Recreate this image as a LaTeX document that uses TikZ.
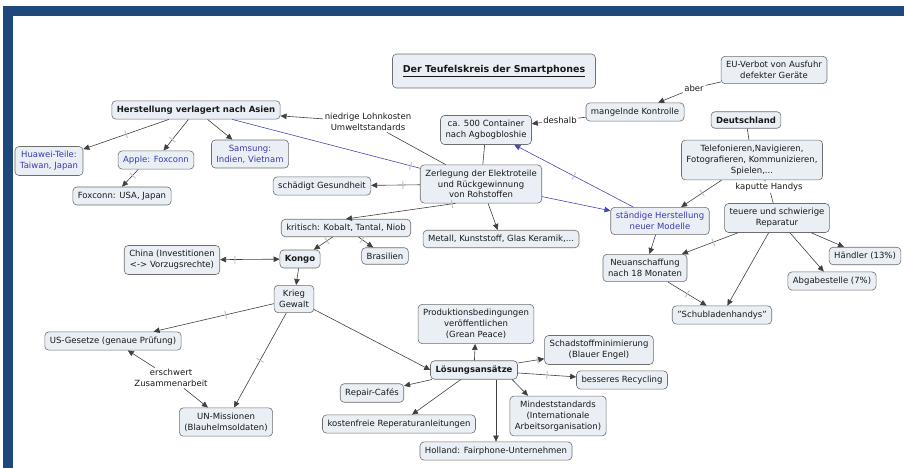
\documentclass[tikz,border=0pt]{standalone}
\usepackage{fontspec}
\setmainfont{DejaVu Sans}
\usetikzlibrary{arrows.meta,positioning,calc}
\definecolor{framecol}{HTML}{1F497D}
\definecolor{boxfill}{HTML}{E9EFF4}
\definecolor{boxline}{HTML}{6E6E6E}
\definecolor{linkcol}{HTML}{404040}
\definecolor{bluelink}{HTML}{4646B4}
\definecolor{bluetext}{HTML}{3A3AAE}
\definecolor{tickcol}{HTML}{C4C4C4}

\begin{document}
\begin{tikzpicture}[x=1pt,y=-1pt,
  font=\fontsize{8.5}{10.8}\selectfont,
  concept/.style={draw=boxline, line width=0.6pt, fill=boxfill, rounded corners=4pt, align=center,
    inner xsep=5pt, inner ysep=5pt, text=black!90},
  boldbox/.style={concept, font=\fontsize{8.5}{10.8}\selectfont\bfseries},
  bluebox/.style={concept, text=bluetext},
  phrase/.style={align=center, inner sep=1.5pt, text=black!90},
  link/.style={draw=linkcol, line width=0.6pt, -{Triangle[length=6pt,width=5.5pt]}},
  plain/.style={draw=linkcol, line width=0.6pt},
  bluelinked/.style={draw=bluelink, line width=0.6pt, -{Triangle[length=6pt,width=5.5pt]}},
  tickmark/.style={pos=0.5, sloped, draw=tickcol, line width=1pt, inner sep=0pt,
    minimum width=0pt, minimum height=8pt}]
\useasboundingbox (0,0) rectangle (904,468);
\fill[framecol] (3,6) rectangle (904,16);
\fill[framecol] (3,6) rectangle (13,468);

\node[boldbox, font=\fontsize{9.5}{11}\selectfont\bfseries, minimum width=203pt, minimum height=34pt] (title) at (494,71) {\underline{Der Teufelskreis der Smartphones}};
\node[concept] (euverbot) at (774,70) {EU-Verbot von Ausfuhr\\defekter Geräte};
\node[phrase] (aber) at (694,88) {aber};
\node[concept] (kontrolle) at (635,112) {mangelnde Kontrolle};
\node[phrase] (deshalb) at (560,120) {deshalb};
\node[concept] (container) at (486,130) {ca. 500 Container\\nach Agbogbloshie};
\node[boldbox] (deutschland) at (746,120) {Deutschland};
\node[boldbox] (herst) at (196,110) {Herstellung verlagert nach Asien};
\node[phrase] (lohn) at (368,122) {niedrige Lohnkosten\\Umweltstandards};
\node[bluebox] (huawei) at (49,161) {Huawei-Teile:\\Taiwan, Japan};
\node[bluebox] (apple) at (156,160) {Apple: Foxconn};
\node[bluebox] (samsung) at (250,154) {Samsung:\\Indien, Vietnam};
\node[concept] (foxconn) at (122,196) {Foxconn: USA, Japan};
\node[concept] (zerl) at (481,184) {Zerlegung der Elektroteile\\und Rückgewinnung\\von Rohstoffen};
\node[concept] (gesund) at (322,186) {schädigt Gesundheit};
\node[concept] (kritisch) at (346,228) {kritisch: Kobalt, Tantal, Niob};
\node[concept] (metall) at (501,239) {Metall, Kunststoff, Glas Keramik,...};
\node[concept] (brasilien) at (385,256) {Brasilien};
\node[boldbox] (kongo) at (300,259) {Kongo};
\node[concept] (china) at (172,260) {China (Investitionen\\<-> Vorzugsrechte)};
\node[concept] (krieg) at (294,299) {Krieg\\Gewalt};
\node[concept] (usg) at (113,341) {US-Gesetze (genaue Prüfung)};
\node[phrase] (erschw) at (171,378) {erschwert\\Zusammenarbeit};
\node[concept] (un) at (226,422) {UN-Missionen\\(Blauhelmsoldaten)};
\node[boldbox] (loesung) at (474,370) {Lösungsansätze};
\node[concept] (produktion) at (476,324) {Produktionsbedingungen\\veröffentlichen\\(Grean Peace)};
\node[concept] (schadstoff) at (599,350) {Schadstoffminimierung\\(Blauer Engel)};
\node[concept] (recycling) at (622,380) {besseres Recycling};
\node[concept] (mindest) at (558,416) {Mindeststandards\\(Internationale\\Arbeitsorganisation)};
\node[concept] (holland) at (496,451) {Holland: Fairphone-Unternehmen};
\node[concept] (kostenfrei) at (399,424) {kostenfreie Reperaturanleitungen};
\node[concept] (repair) at (372,393) {Repair-Cafés};
\node[concept] (tele) at (752,160) {Telefonieren,Navigieren,\\Fotografieren, Kommunizieren,\\Spielen,...};
\node[phrase] (kaputt) at (769,187) {kaputte Handys};
\node[bluebox] (modelle) at (660,221) {ständige Herstellung\\neuer Modelle};
\node[concept] (teuer) at (777,218) {teuere und schwierige\\Reparatur};
\node[concept] (haendler) at (865,256) {Händler (13\%)};
\node[concept] (abgabe) at (832,281) {Abgabestelle (7\%)};
\node[concept] (neu) at (645,268) {Neuanschaffung\\nach 18 Monaten};
\node[concept] (schublade) at (722,315) {"Schubladenhandys"};

\draw[plain] (euverbot) -- (aber);
\draw[link] (aber) -- (kontrolle);
\draw[plain] (kontrolle) -- (deshalb);
\draw[link] (deshalb) -- (container);
\draw[plain] (container) -- (zerl);
\draw[plain] (zerl) -- (lohn);
\draw[link] (lohn) -- (herst);
\draw[link] (herst) -- node[tickmark]{} (huawei);
\draw[link] (herst) -- node[tickmark, pos=0.65]{} (apple);
\draw[link] (herst) -- (samsung);
\draw[link] (apple.208) -- node[tickmark, pos=0.35]{} (foxconn.north);
\draw[bluelinked, -] (herst) -- node[tickmark, pos=0.95]{} (zerl);
\draw[link] (zerl) -- node[tickmark, pos=0.35]{} (gesund);
\draw[link] (zerl.217) -- node[tickmark, pos=0.03]{} (kritisch.north);
\draw[link] (zerl) -- (metall);
\draw[link] (kritisch) -- node[tickmark, pos=0.3]{} (kongo);
\draw[link] (kritisch) -- node[tickmark, pos=0.25]{} (brasilien);
\draw[link, {Triangle[length=6pt,width=5.5pt]}-{Triangle[length=6pt,width=5.5pt]}] (kongo) -- node[tickmark, pos=0.75]{} (china);
\draw[link] (kongo) -- (krieg);
\draw[link] (krieg) -- node[tickmark, pos=0.4]{} (usg);
\draw[link] (krieg) -- node[tickmark]{} (un);
\draw[link] (krieg) -- (loesung.west);
\draw[link] (erschw) -- (usg);
\draw[link] (erschw) -- (un);
\draw[link] (loesung) -- (produktion);
\draw[link] (loesung) -- node[tickmark, pos=0.75]{} (schadstoff);
\draw[link] (loesung) -- node[tickmark]{} (recycling);
\draw[link] (loesung.-14) -- (mindest.146);
\draw[link] (loesung.south -| holland.north) -- (holland.north);
\draw[link] (loesung) -- (kostenfrei);
\draw[link] (loesung) -- (repair);
\draw[bluelinked] (zerl) -- (modelle);
\draw[bluelinked] (modelle) -- node[tickmark]{} (container);
\draw[plain] (deutschland) -- (tele);
\draw[link] (tele) -- node[tickmark, pos=0.48]{} (modelle);
\draw[plain] (tele) -- (kaputt);
\draw[plain] (kaputt) -- (teuer);
\draw[link] (teuer) -- (haendler);
\draw[link] (teuer) -- (abgabe);
\draw[link] (teuer) -- node[tickmark, pos=0.44]{} (neu);
\draw[link] (teuer) -- (schublade);
\draw[link] (modelle) -- (neu);
\draw[link] (neu) -- node[tickmark]{} (schublade);
\end{tikzpicture}
\end{document}
